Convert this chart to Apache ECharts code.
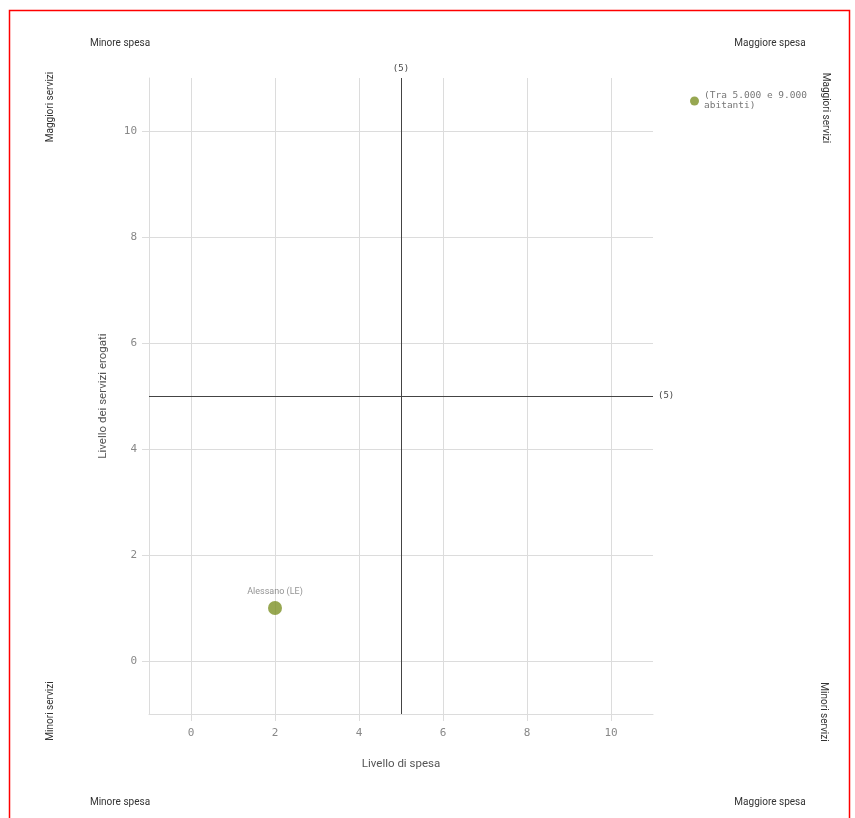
<!DOCTYPE html>
<html><head><meta charset="utf-8">
<script src="https://cdn.jsdelivr.net/npm/echarts@6/dist/echarts.min.js"></script>
<style>html,body{margin:0;padding:0;background:#fff}#c{width:855px;height:818px}</style>
</head><body><div id="c"></div>
<script>
const seriesName = '(Tra 5.000 e 9.000\nabitanti)';
const pointNames = ['Alessano (LE)'];
const spesa = [2];      // Livello di spesa
const servizi = [1];    // Livello dei servizi erogati
const xTicks = [0, 2, 4, 6, 8, 10];
const yTicks = [0, 2, 4, 6, 8, 10];
const refX = 5, refY = 5;

const mono = 'DejaVu Sans Mono';
const sans = 'Roboto';
const olive = '#7d9125';
const gridCol = '#dcdcdc';

const chart = echarts.init(document.getElementById('c'), null, {renderer: 'canvas'});
const axisCommon = {
  type: 'value', min: -1, max: 11,
  axisLine: {show: true, onZero: false, lineStyle: {color: gridCol, width: 1}},
  axisTick: {show: true, length: 7, lineStyle: {color: gridCol}},
  splitLine: {show: true, lineStyle: {color: gridCol, width: 1}},
  nameTextStyle: {color: '#555', fontFamily: sans, fontSize: 11.5}
};
chart.setOption({
  animation: false,
  grid: {left: 149, right: 202, top: 78, bottom: 104},
  xAxis: Object.assign({}, axisCommon, {
    name: 'Livello di spesa', nameLocation: 'middle', nameGap: 44,
    axisTick: Object.assign({}, axisCommon.axisTick, {customValues: xTicks}),
    axisLabel: {customValues: xTicks, color: '#888', fontFamily: mono, fontSize: 11, margin: 14}
  }),
  yAxis: Object.assign({}, axisCommon, {
    name: 'Livello dei servizi erogati', nameLocation: 'middle', nameGap: 40,
    axisTick: Object.assign({}, axisCommon.axisTick, {customValues: yTicks}),
    axisLabel: {customValues: yTicks, color: '#888', fontFamily: mono, fontSize: 11, margin: 12}
  }),
  legend: {
    show: true, orient: 'vertical', left: 685, top: 86,
    icon: 'circle', itemWidth: 9, itemHeight: 9, itemGap: 4,
    textStyle: {color: '#777', fontFamily: mono, fontSize: 9.5, lineHeight: 10},
    data: [seriesName]
  },
  series: [{
    name: seriesName, type: 'scatter', symbolSize: 14,
    itemStyle: {color: olive},
    data: spesa.map((v, i) => ({name: pointNames[i], value: [v, servizi[i]]})),
    label: {show: true, position: 'top', distance: 5, formatter: '{b}', color: '#777', fontFamily: sans, fontSize: 9},
    markLine: {
      silent: true, symbol: 'none',
      lineStyle: {color: '#444', width: 1, type: 'solid'},
      label: {show: true, formatter: '(5)', color: '#444', fontFamily: mono, fontSize: 9},
      data: [{xAxis: refX}, {yAxis: refY}]
    }
  }],
  graphic: [
    {type: 'rect', shape: {x: 9.5, y: 10.5, width: 840, height: 830}, style: {fill: 'none', stroke: '#ff0000', lineWidth: 1.5}, silent: true},
    {type: 'text', x: 120, y: 43, style: {text: 'Minore spesa', fill: '#333', font: '10px Roboto', align: 'center', verticalAlign: 'middle'}},
    {type: 'text', x: 770, y: 43, style: {text: 'Maggiore spesa', fill: '#333', font: '10px Roboto', align: 'center', verticalAlign: 'middle'}},
    {type: 'text', x: 120, y: 802, style: {text: 'Minore spesa', fill: '#333', font: '10px Roboto', align: 'center', verticalAlign: 'middle'}},
    {type: 'text', x: 770, y: 802, style: {text: 'Maggiore spesa', fill: '#333', font: '10px Roboto', align: 'center', verticalAlign: 'middle'}},
    {type: 'text', x: 50, y: 107, rotation: Math.PI / 2, style: {text: 'Maggiori servizi', fill: '#333', font: '10px Roboto', align: 'center', verticalAlign: 'middle'}},
    {type: 'text', x: 50, y: 711, rotation: Math.PI / 2, style: {text: 'Minori servizi', fill: '#333', font: '10px Roboto', align: 'center', verticalAlign: 'middle'}},
    {type: 'text', x: 825, y: 108, rotation: -Math.PI / 2, style: {text: 'Maggiori servizi', fill: '#333', font: '10px Roboto', align: 'center', verticalAlign: 'middle'}},
    {type: 'text', x: 823, y: 712, rotation: -Math.PI / 2, style: {text: 'Minori servizi', fill: '#333', font: '10px Roboto', align: 'center', verticalAlign: 'middle'}}
  ]
});
</script></body></html>
